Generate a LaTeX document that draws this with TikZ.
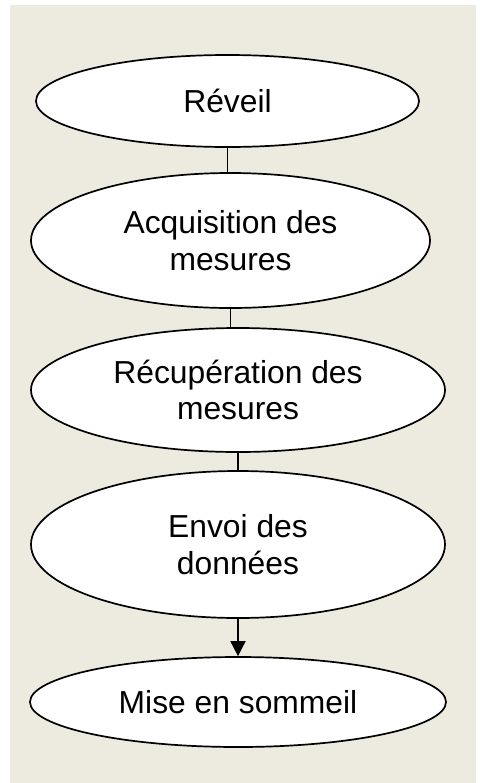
\documentclass[tikz,border=0pt]{standalone}
\usepackage{fontspec}
\setmainfont{Liberation Sans}
\usetikzlibrary{shapes.geometric,arrows.meta}
\definecolor{fond}{HTML}{EDEAE0}
\tikzset{
    etape/.style={ellipse,draw,fill=white,line width=0.85pt,inner sep=0pt,
        align=center,font=\fontsize{15.9}{18.4}\selectfont},
    lien/.style={line width=0.85pt}
}
\begin{document}
\begin{tikzpicture}[x=0.5pt,y=-0.5pt]
        \useasboundingbox (0,0) rectangle (480,783);
        \fill[fond] (10,5) rectangle (476,783);
        \node[etape,minimum width=191.5pt,minimum height=46pt] (reveil) at (227.5,101) {Réveil};
        \node[etape,minimum width=199.5pt,minimum height=67.5pt] (acquisition) at (230.5,240.5) {Acquisition des\\mesures};
        \node[etape,minimum width=207pt,minimum height=62pt] (recuperation) at (238,390) {Récupération des\\mesures};
        \node[etape,minimum width=207pt,minimum height=73.5pt] (envoi) at (238,544.5) {Envoi des\\données};
        \node[etape,minimum width=208pt,minimum height=45pt] (sommeil) at (238,702) {Mise en sommeil};
        \draw[lien] (reveil.south) -- (reveil.south |- acquisition.north);
        \draw[lien] (acquisition.south) -- (acquisition.south |- recuperation.north);
        \draw[lien] (recuperation.south) -- (recuperation.south |- envoi.north);
        \draw[lien,-{Triangle[length=7.5pt,width=7.5pt]}] (envoi.south) -- (sommeil.north);
    \end{tikzpicture}
\end{document}
